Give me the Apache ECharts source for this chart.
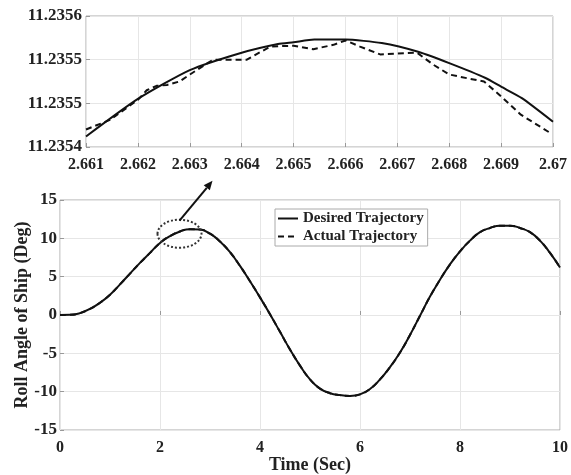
<!DOCTYPE html>
<html>
<head>
<meta charset="utf-8">
<script src="https://cdn.jsdelivr.net/npm/echarts@6/dist/echarts.min.js"></script>
<style>html,body{margin:0;padding:0;background:#fff}#c{width:571px;height:475px}</style>
</head>
<body>
<div id="c"></div>
<script>
// Main plot data (time in s, roll angle in deg)
var mainTime = [0,0.2,0.4,0.6,0.8,1.0,1.2,1.4,1.6,1.8,2.0,2.2,2.4,2.6,2.8,3.0,3.2,3.4,3.6,3.8,4.0,4.2,4.4,4.6,4.8,5.0,5.2,5.4,5.6,5.8,6.0,6.2,6.4,6.6,6.8,7.0,7.2,7.4,7.6,7.8,8.0,8.2,8.4,8.6,8.8,9.0,9.2,9.4,9.6,9.8,10.0];
var desiredMain = [0,0.02,0.25,0.8,1.6,2.65,4.0,5.4,6.8,8.1,9.4,10.3,10.9,11.2,11.15,10.6,9.6,8.2,6.4,4.4,2.3,0.1,-2.2,-4.5,-6.6,-8.4,-9.6,-10.2,-10.45,-10.55,-10.35,-9.65,-8.4,-6.8,-4.9,-2.6,-0.1,2.4,4.6,6.6,8.3,9.7,10.8,11.35,11.65,11.65,11.35,10.8,9.7,8.1,6.2];
var actualMain = [0,0.02,0.25,0.8,1.6,2.65,4.0,5.4,6.8,8.1,9.4,10.3,10.9,11.2,11.15,10.6,9.6,8.2,6.4,4.4,2.3,0.1,-2.2,-4.5,-6.6,-8.4,-9.6,-10.2,-10.45,-10.55,-10.35,-9.65,-8.4,-6.8,-4.9,-2.6,-0.1,2.4,4.6,6.6,8.3,9.7,10.8,11.35,11.65,11.65,11.35,10.8,9.7,8.1,6.2];

// Inset (zoom) data
var insetDesiredTime = [2.661,2.662,2.663,2.664,2.6647,2.665,2.6654,2.666,2.6667,2.6674,2.668,2.6687,2.669,2.6694,2.67];
var insetDesired = [11.235462,11.235505,11.235538,11.235558,11.235568,11.235570,11.235573,11.235573,11.235569,11.235559,11.235546,11.235529,11.235519,11.235506,11.235479];
var insetActualTime = [2.661,2.66146,2.662,2.66217,2.66236,2.66256,2.6628,2.66313,2.66345,2.66384,2.6641,2.66455,2.665,2.66538,2.66577,2.666,2.66628,2.66667,2.667,2.66738,2.6677,2.668,2.66841,2.66867,2.669,2.66938,2.66995];
var insetActual = [11.23547,11.235481,11.235504,11.235515,11.23552,11.235521,11.235525,11.235538,11.23555,11.23555,11.23555,11.235565,11.235566,11.235562,11.235567,11.235572,11.235565,11.235556,11.235557,11.235558,11.235544,11.235533,11.235528,11.235525,11.235508,11.235487,11.235466];
var insetYTickLabels = ['11.2354','11.2355','11.2355','11.2356'];

// Annotation (ellipse centre / arrow) in data coords of main plot
var ellipseCenter = [2.39, 10.6];
var arrowStart = [2.39, 12.3];
var arrowEnd = [3.05, 17.5];

function zip(a,b){var r=[];for(var i=0;i<a.length;i++)r.push([a[i],b[i]]);return r;}

var FONT = 'Liberation Serif';
var TXT = '#222';
var chart = echarts.init(document.getElementById('c'), null, {renderer:'canvas'});

var insetYMin = 11.23545, insetYInt = 0.00005;

var option = {
  backgroundColor:'#fff',
  animation:false,
  textStyle:{fontFamily:FONT},
  grid:[
    {left:86, top:16, right:18, bottom:328, show:true, borderColor:'#aaa', borderWidth:1, containLabel:false},
    {left:60, top:200, right:9, bottom:43, show:true, borderColor:'#aaa', borderWidth:1, containLabel:false}
  ],
  legend:{
    left:275, top:209, orient:'vertical', itemGap:3, itemWidth:20, itemHeight:10,
    padding:[2,4,2,2], borderColor:'#aaa', borderWidth:1, backgroundColor:'#fff',
    itemStyle:{opacity:0},
    textStyle:{fontFamily:FONT, fontWeight:'bold', fontSize:15, color:TXT},
    data:[{name:'Desired Trajectory'},{name:'Actual Trajectory'}]
  },
  xAxis:[
    {type:'value', gridIndex:0, min:2.661, max:2.67, interval:0.001,
     axisLine:{show:false}, axisTick:{show:true, inside:true, length:4, lineStyle:{color:'#999'}},
     splitLine:{show:true, lineStyle:{color:'#e6e6e6'}},
     axisLabel:{margin:10, fontFamily:FONT, fontWeight:'bold', fontSize:16, color:TXT,
       formatter:function(v){return (+v.toFixed(3)).toString();}}},
    {type:'value', gridIndex:1, min:0, max:10, interval:2,
     name:'Time (Sec)', nameLocation:'middle', nameGap:26, nameMoveOverlap:false,
     nameTextStyle:{fontFamily:FONT, fontWeight:'bold', fontSize:18, color:TXT},
     axisLine:{show:false}, axisTick:{show:true, inside:true, length:4, lineStyle:{color:'#999'}},
     splitLine:{show:true, lineStyle:{color:'#e6e6e6'}},
     axisLabel:{margin:10, fontFamily:FONT, fontWeight:'bold', fontSize:16, color:TXT}}
  ],
  yAxis:[
    {type:'value', gridIndex:0, min:insetYMin, max:11.2356, interval:insetYInt,
     axisLine:{show:false}, axisTick:{show:true, inside:true, length:4, lineStyle:{color:'#999'}},
     splitLine:{show:true, lineStyle:{color:'#e6e6e6'}},
     axisLabel:{margin:4, fontFamily:FONT, fontWeight:'bold', fontSize:17, color:TXT,
       formatter:function(v){var i=Math.round((v-insetYMin)/insetYInt);return insetYTickLabels[i]||'';}}},
    {type:'value', gridIndex:1, min:-15, max:15, interval:5,
     name:'Roll Angle of Ship (Deg)', nameLocation:'middle', nameGap:29, nameMoveOverlap:false,
     nameTextStyle:{fontFamily:FONT, fontWeight:'bold', fontSize:18, color:TXT},
     axisLine:{show:false}, axisTick:{show:true, inside:true, length:4, lineStyle:{color:'#999'}},
     splitLine:{show:true, lineStyle:{color:'#e6e6e6'}},
     axisLabel:{margin:3, fontFamily:FONT, fontWeight:'bold', fontSize:17, color:TXT}}
  ],
  series:[
    {name:'Desired Trajectory', type:'line', xAxisIndex:1, yAxisIndex:1, data:zip(mainTime,desiredMain),
     smooth:0.5, symbol:'none', lineStyle:{color:'#111', width:2, type:'solid'}, itemStyle:{color:'#111'}},
    {name:'Actual Trajectory', type:'line', xAxisIndex:1, yAxisIndex:1, data:zip(mainTime,actualMain),
     smooth:0.5, symbol:'none', lineStyle:{color:'#111', width:2, type:[6,4]}, itemStyle:{color:'#111'}},
    {name:'Desired Trajectory', type:'line', xAxisIndex:0, yAxisIndex:0, data:zip(insetDesiredTime,insetDesired),
     smooth:0.2, symbol:'none', lineStyle:{color:'#111', width:2, type:'solid'}, itemStyle:{color:'#111'}},
    {name:'Actual Trajectory', type:'line', xAxisIndex:0, yAxisIndex:0, data:zip(insetActualTime,insetActual),
     smooth:false, symbol:'none', lineStyle:{color:'#111', width:2, type:[6,4]}, itemStyle:{color:'#111'}}
  ]
};
chart.setOption(option);

var ec = chart.convertToPixel({gridIndex:1}, ellipseCenter);
var as = chart.convertToPixel({gridIndex:1}, arrowStart);
var ae = chart.convertToPixel({gridIndex:1}, arrowEnd);
var ang = Math.atan2(ae[1]-as[1], ae[0]-as[0]);
var hl = 9, hw = 4;
var bx = ae[0]-hl*Math.cos(ang), by = ae[1]-hl*Math.sin(ang);
chart.setOption({graphic:[
  {type:'ellipse', shape:{cx:ec[0], cy:ec[1], rx:22, ry:14}, z:100,
   style:{fill:'none', stroke:'#333', lineWidth:2, lineDash:[2,2]}},
  {type:'line', shape:{x1:as[0], y1:as[1], x2:bx, y2:by}, z:100,
   style:{stroke:'#111', lineWidth:2}},
  {type:'polygon', shape:{points:[[ae[0],ae[1]],[bx+hw*Math.sin(ang), by-hw*Math.cos(ang)],[bx-hw*Math.sin(ang), by+hw*Math.cos(ang)]]}, z:100,
   style:{fill:'#111'}}
]});
</script>
</body>
</html>
